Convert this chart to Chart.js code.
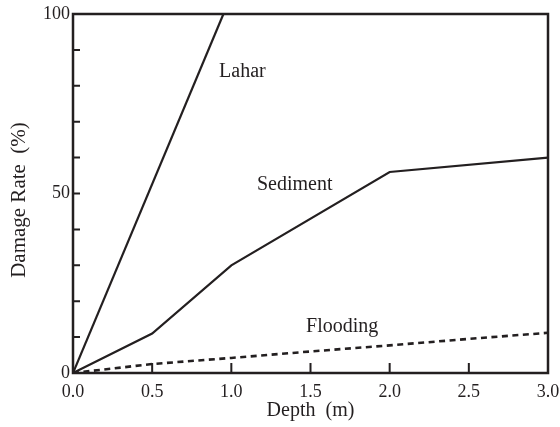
<!DOCTYPE html>
<html>
<head>
<meta charset="utf-8">
<script src="https://cdn.jsdelivr.net/npm/chart.js@4"></script>
<style>
  html, body { margin: 0; padding: 0; background: #fff; }
  #wrap { width: 560px; height: 427px; }
</style>
</head>
<body>
<div id="wrap"><canvas id="chart" width="560" height="427"></canvas></div>
<script>
// depth (m) / damage rate (%)
var laharDepth = [0, 0.95];
var laharRate = [0, 100];
var sedimentDepth = [0, 0.5, 1.0, 2.0, 3.0];
var sedimentRate = [0, 11, 30, 56, 60];
var floodDepth = [0, 0.5, 1.0, 1.5, 2.0, 2.5, 3.0];
var floodRate = [0, 2.5, 4.2, 6, 7.7, 9.5, 11.2];
var yLabels = [0, 50, 100];
var curveNames = [
  { text: 'Lahar', x: 1.07, y: 84 },
  { text: 'Sediment', x: 1.40, y: 52.4 },
  { text: 'Flooding', x: 1.70, y: 13 }
];

var ink = '#231f20';
var serif = '"Liberation Serif", "Times New Roman", serif';

function pts(xs, ys) {
  return xs.map(function(x, i) { return { x: x, y: ys[i] }; });
}

// frame, inward ticks, curve names, y title
var decor = {
  id: 'decor',
  afterDraw: function(chart) {
    var ctx = chart.ctx, a = chart.chartArea;
    var xs = chart.scales.x, ys = chart.scales.y;
    ctx.save();
    ctx.strokeStyle = ink;
    ctx.lineWidth = 2.5;
    ctx.strokeRect(a.left, a.top, a.right - a.left, a.bottom - a.top);
    ctx.lineWidth = 2;
    ctx.beginPath();
    for (var v = 10; v < 100; v += 10) {
      var py = ys.getPixelForValue(v);
      ctx.moveTo(a.left, py);
      ctx.lineTo(a.left + 7, py);
    }
    for (var d = 0.5; d < 3; d += 0.5) {
      var px = xs.getPixelForValue(d);
      ctx.moveTo(px, a.bottom);
      ctx.lineTo(px, a.bottom - 10);
    }
    ctx.stroke();
    ctx.fillStyle = ink;
    ctx.font = '20px ' + serif;
    ctx.textAlign = 'center';
    ctx.textBaseline = 'middle';
    curveNames.forEach(function(n) {
      ctx.fillText(n.text, xs.getPixelForValue(n.x), ys.getPixelForValue(n.y));
    });
    ctx.translate(19, 200);
    ctx.rotate(-Math.PI / 2);
    ctx.font = '21px ' + serif;
    ctx.fillText('Damage Rate  (%)', 0, 0);
    ctx.restore();
  }
};

new Chart(document.getElementById('chart'), {
  type: 'line',
  data: {
    datasets: [
      { label: 'Lahar', data: pts(laharDepth, laharRate), borderColor: ink, borderWidth: 2.2, pointRadius: 0, tension: 0 },
      { label: 'Sediment', data: pts(sedimentDepth, sedimentRate), borderColor: ink, borderWidth: 2.2, pointRadius: 0, tension: 0 },
      { label: 'Flooding', data: pts(floodDepth, floodRate), borderColor: ink, borderWidth: 2.6, borderDash: [6, 4.5], pointRadius: 0, tension: 0 }
    ]
  },
  options: {
    responsive: false,
    animation: false,
    layout: { padding: { top: 14, right: 12, left: 0, bottom: 0 } },
    plugins: { legend: { display: false }, tooltip: { enabled: false } },
    scales: {
      x: {
        type: 'linear', min: 0, max: 3,
        grid: { display: false, drawTicks: false },
        border: { display: false },
        ticks: {
          stepSize: 0.5, color: ink, padding: 8,
          font: { family: serif, size: 18 },
          callback: function(v) { return v.toFixed(1); }
        },
        title: { display: true, text: 'Depth  (m)', color: ink, font: { family: serif, size: 20 }, padding: { top: 2 } },
        afterFit: function(s) { s.height = 54; s.paddingLeft = 0; s.paddingRight = 0; }
      },
      y: {
        type: 'linear', min: 0, max: 100,
        grid: { display: false, drawTicks: false },
        border: { display: false },
        ticks: {
          stepSize: 10, color: ink, padding: 3,
          font: { family: serif, size: 18 },
          autoSkip: false,
          callback: function(v) { return yLabels.indexOf(v) >= 0 ? String(v) : ''; }
        },
        afterFit: function(s) { s.width = 73; s.paddingTop = 0; s.paddingBottom = 0; }
      }
    }
  },
  plugins: [decor]
});
</script>
</body>
</html>
